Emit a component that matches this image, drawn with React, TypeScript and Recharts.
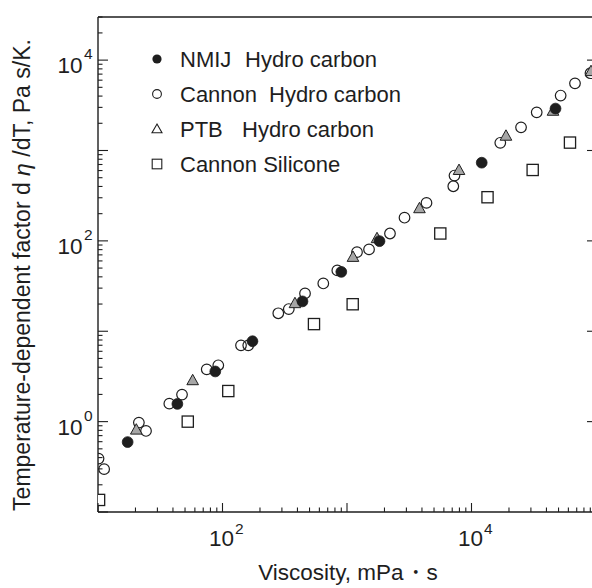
import React from 'react';
import { ScatterChart, Scatter, XAxis, YAxis, Legend } from 'recharts';

// viscosity (mPa·s) and temperature-dependent factor (Pa s/K)
const nmijVisc = [17.3, 43.4, 87.5, 174, 439, 900, 1824, 12080, 47300];
const nmijFactor = [0.594, 1.57, 3.59, 7.75, 21.4, 45.4, 99.3, 733, 2911];

const cannonVisc = [
  10.1, 11.2, 21.3, 24.3, 37.4, 47.3, 74.7, 92.5, 140.8, 161, 280.6, 340.8, 460, 645,
  836, 1203, 1503, 2214, 2897, 4350, 7140, 7300, 17030, 25000, 33400, 52000, 67800, 90300,
];
const cannonFactor = [
  0.39, 0.298, 0.975, 0.789, 1.58, 1.99, 3.79, 4.2, 6.98, 6.98, 15.8, 17.6, 26.2, 33.8,
  47.1, 75, 80.5, 120.7, 180.5, 263, 402, 528, 1216, 1804, 2643, 4054, 5530, 7165,
];

const ptbVisc = [20.3, 57.6, 382, 1117, 1742, 3820, 7940, 18920, 45150, 91200];
const ptbFactor = [0.81, 2.85, 20.3, 66, 106.3, 228, 604, 1446, 2730, 7500];

const siliconeVisc = [10.2, 52.6, 111.3, 543, 1111, 5615, 13450, 31000, 61800];
const siliconeFactor = [0.136, 1.0, 2.18, 12.0, 19.9, 120.7, 304, 609, 1223];

const legendNames = ['NMIJ', 'Cannon', 'PTB', 'Cannon Silicone'];
const legendMaterials = ['Hydro carbon', 'Hydro carbon', 'Hydro carbon', ''];

const xDomain = [10, 100000];
const yDomain = [0.1, 30000];
const xLabelExps = [2, 4];
const yLabelExps = [0, 2, 4];
const rightTicks = [1, 10, 100, 1000, 10000];

const minorTicks = (lo: number, hi: number) => {
  const out: number[] = [];
  for (let d = Math.floor(Math.log10(lo)); d <= Math.ceil(Math.log10(hi)); d++) {
    for (let k = 1; k <= 9; k++) {
      const v = k * Math.pow(10, d);
      if (v >= lo * 0.999 && v <= hi * 1.001) out.push(v);
    }
  }
  return out;
};
const xTicks = minorTicks(xDomain[0], xDomain[1]);
const yTicks = minorTicks(yDomain[0], yDomain[1]);

const pts = (xs: number[], ys: number[]) => xs.map((x, i) => ({ x, y: ys[i] }));

const INK = '#1e1e1e';
const FONT = '"Liberation Sans", Arial, sans-serif';

const logExp = (v: number) => Math.round(Math.log10(v));
const isMajor = (v: number) => Math.abs(Math.log10(v) - logExp(v)) < 1e-6;

const BottomTick = (props: any) => {
  const { x, y, payload } = props;
  const v = payload.value;
  const major = isMajor(v);
  const e = logExp(v);
  return (
    <g>
      <line x1={x} x2={x} y1={y} y2={y - (major ? 9 : 4.5)} stroke={INK} strokeWidth={1.1} />
      {major && xLabelExps.includes(e) && (
        <g fill={INK} fontFamily={FONT}>
          <text x={x - 1} y={y + 34} textAnchor="middle" fontSize={22.5}>10</text>
          <text x={x + 12.5} y={y + 22} fontSize={15.5}>{e}</text>
        </g>
      )}
    </g>
  );
};

const TopTick = (props: any) => {
  const { x, y, payload } = props;
  const major = isMajor(payload.value);
  return <line x1={x} x2={x} y1={y} y2={y + (major ? 9 : 4.5)} stroke={INK} strokeWidth={1.1} />;
};

const LeftTick = (props: any) => {
  const { x, y, payload } = props;
  const v = payload.value;
  const major = isMajor(v);
  const e = logExp(v);
  return (
    <g>
      <line x1={x} x2={x + (major ? 10 : 4.5)} y1={y} y2={y} stroke={INK} strokeWidth={1.1} />
      {major && yLabelExps.includes(e) && (
        <g fill={INK} fontFamily={FONT}>
          <text x={x - 15.5} y={y + 13} textAnchor="end" fontSize={22.5}>10</text>
          <text x={x - 14} y={y - 1} fontSize={15.5}>{e}</text>
        </g>
      )}
    </g>
  );
};

const RightTick = (props: any) => {
  const { x, y } = props;
  return <line x1={x} x2={x - 9} y1={y} y2={y} stroke={INK} strokeWidth={1.1} />;
};

const FilledDot = (p: any) => <circle cx={p.cx} cy={p.cy} r={5.4} fill={INK} stroke={INK} strokeWidth={0.8} />;
const OpenDot = (p: any) => <circle cx={p.cx} cy={p.cy} r={5.3} fill="none" stroke={INK} strokeWidth={1.2} />;
const Tri = (p: any) => (
  <polygon
    points={`${p.cx},${p.cy - 6.2} ${p.cx + 5.8},${p.cy + 4.2} ${p.cx - 5.8},${p.cy + 4.2}`}
    fill="#a6a6a6"
    stroke={INK}
    strokeWidth={1}
  />
);
const Sq = (p: any) => (
  <rect x={p.cx - 5.6} y={p.cy - 5.6} width={11.2} height={11.2} fill="#fff" stroke={INK} strokeWidth={1.3} />
);

const legendMarker = (i: number, cx: number, cy: number) => {
  if (i === 0) return <circle cx={cx} cy={cy} r={4.6} fill={INK} />;
  if (i === 1) return <circle cx={cx} cy={cy} r={4.4} fill="none" stroke={INK} strokeWidth={1.1} />;
  if (i === 2)
    return (
      <polygon
        points={`${cx},${cy - 5} ${cx + 5},${cy + 3.8} ${cx - 5},${cy + 3.8}`}
        fill="#fff"
        stroke={INK}
        strokeWidth={1.1}
      />
    );
  return <rect x={cx - 4.8} y={cy - 4.8} width={9.6} height={9.6} fill="#fff" stroke={INK} strokeWidth={1.1} />;
};

const materialX = [105, 129, 102, 0];

const LegendBox = () => (
  <svg width={300} height={150} style={{ display: 'block' }}>
    {legendNames.map((name, i) => {
      const cy = 19 + i * 35;
      return (
        <g key={name}>
          {legendMarker(i, 17, cy)}
          <text x={40} y={cy + 8} fontSize={22} fill={INK} fontFamily={FONT}>{name}</text>
          {legendMaterials[i] && (
            <text x={materialX[i]} y={cy + 8} fontSize={22} fill={INK} fontFamily={FONT}>
              {legendMaterials[i]}
            </text>
          )}
        </g>
      );
    })}
  </svg>
);

const YTitle = () => (
  <text
    transform="translate(30, 275) rotate(-90)"
    textAnchor="middle"
    fontSize={23}
    fill={INK}
    fontFamily={FONT}
  >
    Temperature-dependent factor d <tspan fontStyle="italic">η</tspan> /dT, Pa s/K.
  </text>
);

const XTitle = () => (
  <text x={348} y={580} textAnchor="middle" fontSize={22.5} fill={INK} fontFamily={FONT}>
    Viscosity, mPa・s
  </text>
);

export default function App() {
  return (
    <div
      style={{
        position: 'absolute',
        left: 0,
        top: 0,
        width: 592,
        height: 588,
        overflow: 'hidden',
        background: '#fff',
        fontFamily: FONT,
      }}
    >
      <ScatterChart width={600} height={588} margin={{ top: 16, right: 3, bottom: 0, left: 0 }}>
        <XAxis
          xAxisId="b"
          dataKey="x"
          type="number"
          scale="log"
          domain={xDomain}
          allowDataOverflow
          ticks={xTicks}
          interval={0}
          tickSize={0}
          tickMargin={0}
          tickLine={false}
          tick={<BottomTick />}
          height={76}
          axisLine={{ stroke: INK, strokeWidth: 1.4 }}
          label={XTitle}
        />
        <XAxis
          xAxisId="t"
          orientation="top"
          type="number"
          scale="log"
          domain={xDomain}
          allowDataOverflow
          ticks={xTicks}
          interval={0}
          tickSize={0}
          tickMargin={0}
          tickLine={false}
          tick={<TopTick />}
          height={1}
          axisLine={{ stroke: INK, strokeWidth: 1.4 }}
        />
        <YAxis
          yAxisId="l"
          dataKey="y"
          type="number"
          scale="log"
          domain={yDomain}
          allowDataOverflow
          ticks={yTicks}
          interval={0}
          tickSize={0}
          tickMargin={0}
          tickLine={false}
          tick={<LeftTick />}
          width={98}
          axisLine={{ stroke: INK, strokeWidth: 1.4 }}
          label={YTitle}
        />
        <YAxis
          yAxisId="r"
          orientation="right"
          type="number"
          scale="log"
          domain={yDomain}
          allowDataOverflow
          ticks={rightTicks}
          interval={0}
          tickSize={0}
          tickMargin={0}
          tickLine={false}
          tick={<RightTick />}
          width={1}
          axisLine={{ stroke: INK, strokeWidth: 1.4 }}
        />
        <Legend
          layout="horizontal"
          verticalAlign="middle"
          align="center"
          wrapperStyle={{ left: 140, top: 40, width: 300, height: 150 }}
          content={() => <LegendBox />}
        />
        <Scatter
          name="Cannon Hydro carbon"
          xAxisId="b"
          yAxisId="l"
          data={pts(cannonVisc, cannonFactor)}
          shape={OpenDot}
          isAnimationActive={false}
        />
        <Scatter
          name="Cannon Silicone"
          xAxisId="b"
          yAxisId="l"
          data={pts(siliconeVisc, siliconeFactor)}
          shape={Sq}
          isAnimationActive={false}
        />
        <Scatter
          name="PTB Hydro carbon"
          xAxisId="b"
          yAxisId="l"
          data={pts(ptbVisc, ptbFactor)}
          shape={Tri}
          isAnimationActive={false}
        />
        <Scatter
          name="NMIJ Hydro carbon"
          xAxisId="b"
          yAxisId="l"
          data={pts(nmijVisc, nmijFactor)}
          shape={FilledDot}
          isAnimationActive={false}
        />
      </ScatterChart>
    </div>
  );
}
